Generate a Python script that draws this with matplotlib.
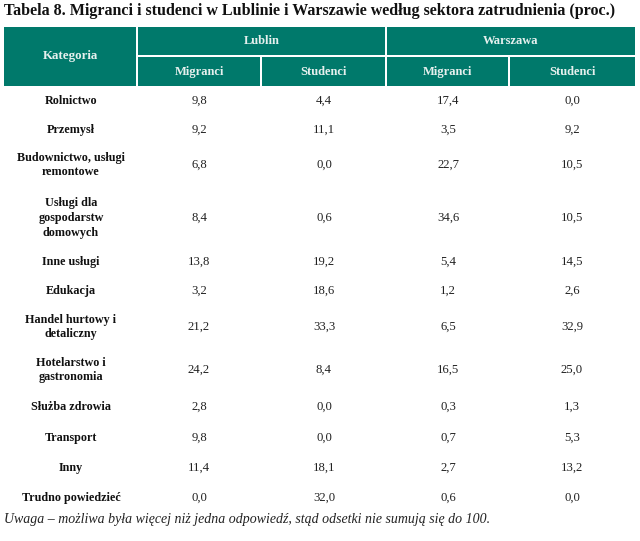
import matplotlib
matplotlib.use("Agg")
import matplotlib.pyplot as plt
from matplotlib.patches import Rectangle

title = "Tabela 8. Migranci i studenci w Lublinie i Warszawie według sektora zatrudnienia (proc.)"
note = "Uwaga – możliwa była więcej niż jedna odpowiedź, stąd odsetki nie sumują się do 100."
header_first = "Kategoria"
cities = ["Lublin", "Warszawa"]
groups = ["Migranci", "Studenci", "Migranci", "Studenci"]
categories = [
    "Rolnictwo",
    "Przemysł",
    "Budownictwo, usługi\nremontowe",
    "Usługi dla\ngospodarstw\ndomowych",
    "Inne usługi",
    "Edukacja",
    "Handel hurtowy i\ndetaliczny",
    "Hotelarstwo i\ngastronomia",
    "Służba zdrowia",
    "Transport",
    "Inny",
    "Trudno powiedzieć",
]
lublin_migranci = ["9,8", "9,2", "6,8", "8,4", "13,8", "3,2", "21,2", "24,2", "2,8", "9,8", "11,4", "0,0"]
lublin_studenci = ["4,4", "11,1", "0,0", "0,6", "19,2", "18,6", "33,3", "8,4", "0,0", "0,0", "18,1", "32,0"]
warszawa_migranci = ["17,4", "3,5", "22,7", "34,6", "5,4", "1,2", "6,5", "16,5", "0,3", "0,7", "2,7", "0,6"]
warszawa_studenci = ["0,0", "9,2", "10,5", "10,5", "14,5", "2,6", "32,9", "25,0", "1,3", "5,3", "13,2", "0,0"]

W, H = 640, 541
fig = plt.figure(figsize=(W / 100, H / 100), dpi=100)
ax = fig.add_axes([0, 0, 1, 1])
ax.set_xlim(0, W)
ax.set_ylim(H, 0)
ax.axis("off")

FONT = ["Liberation Serif", "DejaVu Serif"]
teal = "#00796b"
hdr_txt = "#e6f0ee"

# column edges
xe = [4, 137, 261, 386, 509, 636]
gap = 1.0
top, mid, bot = 27, 56, 86

# header cells
ax.add_patch(Rectangle((xe[0], top), xe[1] - xe[0] - gap, bot - top, color=teal, lw=0))
for i, c in enumerate(cities):
    x0, x1 = xe[1 + 2 * i], xe[3 + 2 * i]
    ax.add_patch(Rectangle((x0 + gap, top), x1 - x0 - 2 * gap, mid - top - gap, color=teal, lw=0))
    ax.text((x0 + x1) / 2, (top + mid) / 2, c, ha="center", va="center",
            fontsize=9, fontweight="bold", color=hdr_txt, family=FONT)
for j, g in enumerate(groups):
    x0, x1 = xe[1 + j], xe[2 + j]
    ax.add_patch(Rectangle((x0 + gap, mid + gap), x1 - x0 - 2 * gap, bot - mid - gap, color=teal, lw=0))
    ax.text((x0 + x1) / 2, (mid + bot) / 2 + 1, g, ha="center", va="center",
            fontsize=9, fontweight="bold", color=hdr_txt, family=FONT)
ax.text((xe[0] + xe[1]) / 2, (top + bot) / 2, header_first, ha="center", va="center",
        fontsize=9.3, fontweight="bold", color=hdr_txt, family=FONT)

# title
ax.text(4, 11, title, ha="left", va="center", fontsize=11.5, fontweight="bold",
        color="#111111", family=FONT)

# rows
row_y = [101, 130, 165, 218, 262, 291, 327, 370, 407, 438, 468, 498]
col_x = [71, 199, 324, 448, 572]
cols = [lublin_migranci, lublin_studenci, warszawa_migranci, warszawa_studenci]
for r, cat in enumerate(categories):
    y = row_y[r]
    ax.text(col_x[0], y, cat, ha="center", va="center", multialignment="center",
            fontsize=8.7, fontweight="bold", color="#111111", family=FONT, linespacing=1.3)
    for k, col in enumerate(cols):
        ax.text(col_x[k + 1], y, col[r], ha="center", va="center",
                fontsize=9.2, color="#222222", family=FONT)

ax.text(4, 519, note, ha="left", va="center", fontsize=10, style="italic",
        color="#222222", family=FONT)

fig.savefig("out.png", dpi=100, facecolor="white")
